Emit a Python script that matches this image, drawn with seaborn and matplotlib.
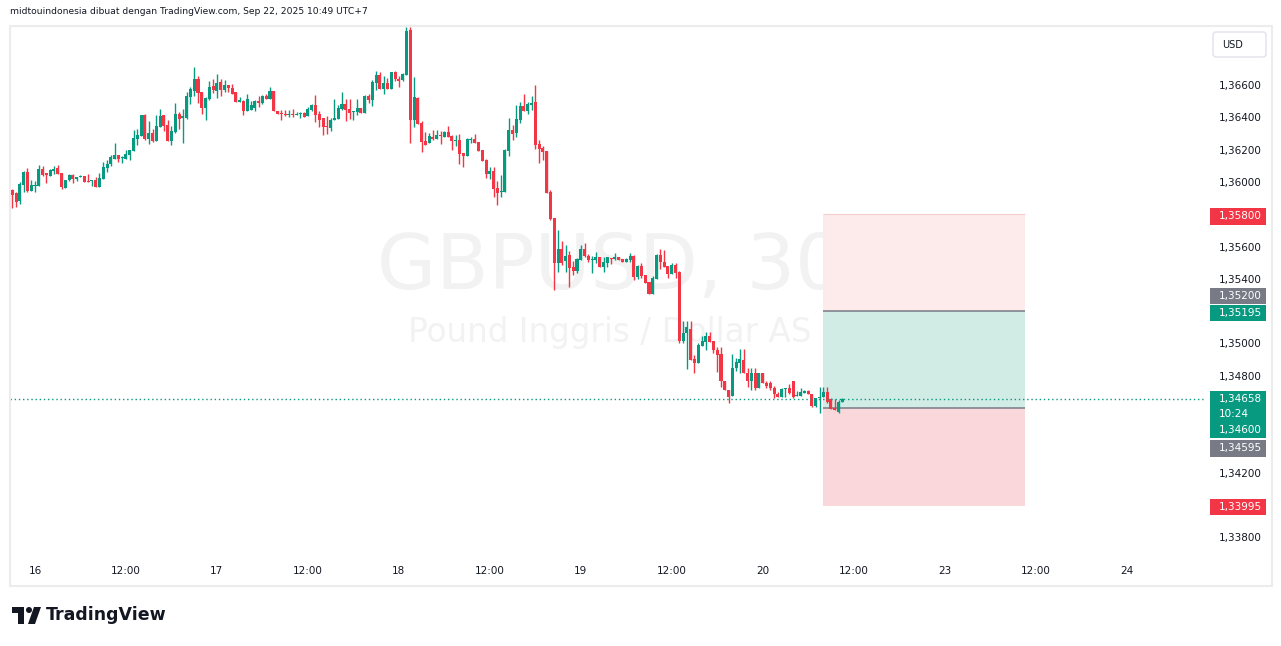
import numpy as np
import pandas as pd
import matplotlib
matplotlib.use("Agg")
import matplotlib.pyplot as plt
import matplotlib.transforms as mtransforms
from matplotlib.patches import Rectangle, Circle, Polygon, FancyBboxPatch
import seaborn as sns

# ---- data: GBPUSD 30m candles ----
open_px = [
    1.35950, 1.35931, 1.35884, 1.35983, 1.36061, 1.35946, 1.35976, 1.35976, 1.36080, 1.36051,
    1.36038, 1.36070, 1.36086, 1.36055, 1.35964, 1.36010, 1.36043, 1.36016, 1.36031, 1.36037,
    1.36006, 1.36006, 1.36012, 1.35970, 1.36020, 1.36088, 1.36113, 1.36144, 1.36167, 1.36148,
    1.36144, 1.36169, 1.36193, 1.36268, 1.36286, 1.36414, 1.36266, 1.36303, 1.36253, 1.36342,
    1.36414, 1.36352, 1.36255, 1.36311, 1.36420, 1.36398, 1.36398, 1.36528, 1.36565, 1.36637,
    1.36557, 1.36458, 1.36513, 1.36594, 1.36565, 1.36619, 1.36569, 1.36600, 1.36581, 1.36557,
    1.36497, 1.36501, 1.36441, 1.36447, 1.36458, 1.36501, 1.36489, 1.36532, 1.36513, 1.36563,
    1.36439, 1.36427, 1.36420, 1.36414, 1.36420, 1.36416, 1.36422, 1.36427, 1.36408, 1.36445,
    1.36476, 1.36420, 1.36396, 1.36346, 1.36334, 1.36383, 1.36390, 1.36451, 1.36482, 1.36451,
    1.36433, 1.36433, 1.36458, 1.36427, 1.36532, 1.36507, 1.36612, 1.36662, 1.36575, 1.36612,
    1.36575, 1.36680, 1.36637, 1.36631, 1.36662, 1.36940, 1.36383, 1.36520, 1.36365, 1.36253,
    1.36241, 1.36278, 1.36266, 1.36291, 1.36278, 1.36309, 1.36284, 1.36253, 1.36260, 1.36179,
    1.36162, 1.36261, 1.36266, 1.36247, 1.36198, 1.36138, 1.36051, 1.36068, 1.35962, 1.35938,
    1.35938, 1.36193, 1.36321, 1.36305, 1.36383, 1.36470, 1.36439, 1.36476, 1.36495, 1.36235,
    1.36210, 1.36191, 1.35938, 1.35777, 1.35498, 1.35585, 1.35511, 1.35548, 1.35473, 1.35449,
    1.35517, 1.35585, 1.35542, 1.35517, 1.35517, 1.35535, 1.35473, 1.35498, 1.35529, 1.35523,
    1.35535, 1.35523, 1.35504, 1.35517, 1.35542, 1.35411, 1.35480, 1.35424, 1.35381, 1.35306,
    1.35399, 1.35548, 1.35504, 1.35480, 1.35430, 1.35486, 1.35442, 1.35017, 1.35067, 1.35092,
    1.34906, 1.34881, 1.34983, 1.35011, 1.35046, 1.35017, 1.34960, 1.34933, 1.34768, 1.34712,
    1.34675, 1.34848, 1.34881, 1.34898, 1.34815, 1.34768, 1.34815, 1.34726, 1.34815, 1.34754,
    1.34754, 1.34726, 1.34685, 1.34671, 1.34716, 1.34726, 1.34768, 1.34677, 1.34677, 1.34695,
    1.34706, 1.34685, 1.34615, 1.34661, 1.34671, 1.34701, 1.34654, 1.34599, 1.34578, 1.34640,
]
high_px = [
    1.35956, 1.35939, 1.35999, 1.36068, 1.36086, 1.36012, 1.36006, 1.36105, 1.36100, 1.36055,
    1.36080, 1.36100, 1.36105, 1.36055, 1.36012, 1.36049, 1.36049, 1.36031, 1.36045, 1.36037,
    1.36049, 1.36010, 1.36029, 1.36055, 1.36123, 1.36136, 1.36167, 1.36241, 1.36167, 1.36162,
    1.36198, 1.36198, 1.36321, 1.36328, 1.36414, 1.36419, 1.36377, 1.36328, 1.36414, 1.36451,
    1.36414, 1.36383, 1.36346, 1.36489, 1.36431, 1.36451, 1.36557, 1.36588, 1.36711, 1.36656,
    1.36557, 1.36526, 1.36625, 1.36637, 1.36668, 1.36637, 1.36631, 1.36600, 1.36606, 1.36557,
    1.36526, 1.36507, 1.36544, 1.36501, 1.36507, 1.36532, 1.36538, 1.36544, 1.36588, 1.36563,
    1.36439, 1.36445, 1.36445, 1.36445, 1.36451, 1.36433, 1.36433, 1.36433, 1.36464, 1.36482,
    1.36538, 1.36439, 1.36396, 1.36408, 1.36396, 1.36513, 1.36476, 1.36557, 1.36513, 1.36513,
    1.36439, 1.36513, 1.36458, 1.36538, 1.36544, 1.36631, 1.36687, 1.36680, 1.36656, 1.36643,
    1.36680, 1.36687, 1.36656, 1.36674, 1.36959, 1.36959, 1.36650, 1.36526, 1.36377, 1.36309,
    1.36303, 1.36321, 1.36321, 1.36315, 1.36315, 1.36346, 1.36291, 1.36291, 1.36297, 1.36179,
    1.36272, 1.36278, 1.36297, 1.36247, 1.36198, 1.36142, 1.36092, 1.36092, 1.36006, 1.36043,
    1.36204, 1.36396, 1.36352, 1.36476, 1.36495, 1.36544, 1.36495, 1.36532, 1.36600, 1.36260,
    1.36222, 1.36191, 1.35950, 1.35777, 1.35702, 1.35634, 1.35610, 1.35573, 1.35511, 1.35529,
    1.35610, 1.35622, 1.35554, 1.35542, 1.35566, 1.35535, 1.35535, 1.35535, 1.35529, 1.35560,
    1.35535, 1.35523, 1.35529, 1.35560, 1.35548, 1.35486, 1.35498, 1.35424, 1.35381, 1.35418,
    1.35554, 1.35585, 1.35579, 1.35480, 1.35498, 1.35498, 1.35449, 1.35139, 1.35139, 1.35139,
    1.34929, 1.35003, 1.35046, 1.35073, 1.35073, 1.35017, 1.34980, 1.34980, 1.34768, 1.34712,
    1.34935, 1.34912, 1.34968, 1.34968, 1.34846, 1.34848, 1.34848, 1.34815, 1.34815, 1.34768,
    1.34768, 1.34737, 1.34700, 1.34726, 1.34726, 1.34749, 1.34768, 1.34706, 1.34726, 1.34712,
    1.34712, 1.34685, 1.34664, 1.34733, 1.34733, 1.34733, 1.34661, 1.34654, 1.34650, 1.34660,
]
low_px = [
    1.35840, 1.35847, 1.35865, 1.35939, 1.35938, 1.35944, 1.35939, 1.35976, 1.36038, 1.35995,
    1.36038, 1.36049, 1.36051, 1.35958, 1.35964, 1.36006, 1.35995, 1.36008, 1.36029, 1.36001,
    1.36001, 1.35976, 1.35970, 1.35970, 1.36020, 1.36063, 1.36100, 1.36144, 1.36125, 1.36119,
    1.36144, 1.36138, 1.36193, 1.36230, 1.36286, 1.36261, 1.36235, 1.36249, 1.36253, 1.36342,
    1.36317, 1.36255, 1.36229, 1.36301, 1.36328, 1.36241, 1.36390, 1.36482, 1.36532, 1.36490,
    1.36422, 1.36383, 1.36507, 1.36550, 1.36520, 1.36532, 1.36557, 1.36557, 1.36546, 1.36497,
    1.36497, 1.36416, 1.36441, 1.36447, 1.36441, 1.36464, 1.36482, 1.36513, 1.36513, 1.36441,
    1.36422, 1.36385, 1.36410, 1.36402, 1.36404, 1.36416, 1.36396, 1.36404, 1.36408, 1.36441,
    1.36373, 1.36340, 1.36291, 1.36297, 1.36315, 1.36383, 1.36390, 1.36445, 1.36377, 1.36390,
    1.36385, 1.36414, 1.36427, 1.36427, 1.36489, 1.36470, 1.36569, 1.36575, 1.36544, 1.36575,
    1.36575, 1.36625, 1.36588, 1.36625, 1.36662, 1.36241, 1.36340, 1.36359, 1.36185, 1.36229,
    1.36241, 1.36260, 1.36266, 1.36236, 1.36278, 1.36278, 1.36199, 1.36222, 1.36113, 1.36094,
    1.36162, 1.36241, 1.36241, 1.36191, 1.36131, 1.36026, 1.36020, 1.35909, 1.35859, 1.35909,
    1.35938, 1.36162, 1.36260, 1.36280, 1.36365, 1.36439, 1.36420, 1.36445, 1.36204, 1.36117,
    1.36136, 1.35931, 1.35764, 1.35331, 1.35442, 1.35486, 1.35442, 1.35350, 1.35424, 1.35436,
    1.35517, 1.35535, 1.35504, 1.35436, 1.35498, 1.35473, 1.35442, 1.35473, 1.35492, 1.35517,
    1.35517, 1.35504, 1.35504, 1.35504, 1.35393, 1.35399, 1.35405, 1.35374, 1.35306, 1.35306,
    1.35399, 1.35461, 1.35473, 1.35405, 1.35430, 1.35405, 1.35003, 1.35003, 1.34844, 1.34898,
    1.34819, 1.34881, 1.34983, 1.34960, 1.35011, 1.34941, 1.34825, 1.34733, 1.34712, 1.34630,
    1.34675, 1.34832, 1.34819, 1.34815, 1.34733, 1.34712, 1.34712, 1.34726, 1.34754, 1.34726,
    1.34712, 1.34664, 1.34671, 1.34671, 1.34671, 1.34685, 1.34664, 1.34677, 1.34677, 1.34691,
    1.34685, 1.34608, 1.34608, 1.34568, 1.34671, 1.34630, 1.34593, 1.34588, 1.34572, 1.34636,
]
close_px = [
    1.35921, 1.35878, 1.35987, 1.36061, 1.35944, 1.35981, 1.35981, 1.36080, 1.36043, 1.36045,
    1.36074, 1.36080, 1.36051, 1.35970, 1.36012, 1.36043, 1.36016, 1.36031, 1.36037, 1.36001,
    1.36001, 1.36010, 1.35970, 1.36024, 1.36092, 1.36113, 1.36156, 1.36167, 1.36144, 1.36152,
    1.36173, 1.36198, 1.36272, 1.36291, 1.36414, 1.36266, 1.36303, 1.36253, 1.36346, 1.36408,
    1.36346, 1.36255, 1.36315, 1.36420, 1.36390, 1.36402, 1.36532, 1.36575, 1.36637, 1.36552,
    1.36459, 1.36520, 1.36588, 1.36569, 1.36612, 1.36569, 1.36600, 1.36581, 1.36546, 1.36497,
    1.36501, 1.36441, 1.36513, 1.36476, 1.36501, 1.36489, 1.36532, 1.36513, 1.36563, 1.36441,
    1.36422, 1.36422, 1.36414, 1.36420, 1.36414, 1.36420, 1.36427, 1.36404, 1.36451, 1.36476,
    1.36414, 1.36383, 1.36340, 1.36340, 1.36383, 1.36396, 1.36458, 1.36482, 1.36445, 1.36427,
    1.36439, 1.36458, 1.36427, 1.36532, 1.36507, 1.36619, 1.36662, 1.36575, 1.36612, 1.36575,
    1.36680, 1.36637, 1.36625, 1.36668, 1.36934, 1.36383, 1.36526, 1.36359, 1.36247, 1.36229,
    1.36284, 1.36268, 1.36291, 1.36284, 1.36309, 1.36278, 1.36253, 1.36260, 1.36175, 1.36162,
    1.36266, 1.36266, 1.36241, 1.36191, 1.36131, 1.36051, 1.36068, 1.35958, 1.35933, 1.35944,
    1.36198, 1.36321, 1.36297, 1.36390, 1.36470, 1.36439, 1.36482, 1.36489, 1.36229, 1.36204,
    1.36185, 1.35931, 1.35771, 1.35498, 1.35585, 1.35498, 1.35542, 1.35467, 1.35449, 1.35523,
    1.35585, 1.35542, 1.35517, 1.35523, 1.35535, 1.35473, 1.35504, 1.35535, 1.35523, 1.35535,
    1.35517, 1.35504, 1.35523, 1.35542, 1.35411, 1.35480, 1.35418, 1.35374, 1.35306, 1.35405,
    1.35548, 1.35504, 1.35473, 1.35430, 1.35486, 1.35436, 1.35017, 1.35067, 1.35102, 1.34898,
    1.34881, 1.34991, 1.35017, 1.35046, 1.35011, 1.34960, 1.34929, 1.34768, 1.34712, 1.34671,
    1.34848, 1.34885, 1.34906, 1.34815, 1.34768, 1.34815, 1.34726, 1.34815, 1.34754, 1.34737,
    1.34726, 1.34685, 1.34671, 1.34716, 1.34726, 1.34695, 1.34671, 1.34681, 1.34701, 1.34706,
    1.34685, 1.34615, 1.34664, 1.34671, 1.34701, 1.34640, 1.34593, 1.34588, 1.34640, 1.34658,
]

# time axis (candle index of each label)
tick_pos = [6, 30, 54, 78, 102, 126, 150, 174, 198, 222, 246, 270, 294]
tick_lbl = ['16', '12:00', '17', '12:00', '18', '12:00', '19', '12:00',
            '20', '12:00', '23', '12:00', '24']
price_ticks = [1.366, 1.364, 1.362, 1.360, 1.356, 1.354, 1.350, 1.348, 1.342, 1.338]

# long/short position tools
short_entry, short_stop, short_target = 1.35200, 1.35800, 1.34595
long_entry, long_target, long_stop = 1.34600, 1.35195, 1.33995
tool_start, tool_end = 213.8, 267.2
last_price = 1.34658

UP = '#089981'
DOWN = '#f23645'
GREY = '#787b86'
TEXT = '#131722'

df = pd.DataFrame({'open': open_px, 'high': high_px, 'low': low_px, 'close': close_px})
df['idx'] = np.arange(len(df))
df['up'] = df['close'] >= df['open']
df['color'] = np.where(df['up'], UP, DOWN)
df['bottom'] = df[['open', 'close']].min(axis=1)
df['body'] = (df['open'] - df['close']).abs().clip(lower=0.00007)

sns.set_theme(style="white")
plt.rcParams['font.family'] = ['DejaVu Sans']

W, H = 1281, 646
fig = plt.figure(figsize=(W / 100, H / 100), dpi=100)
fig.patch.set_facecolor('white')


def fx(px):
    return px / W


def fy(py):
    return 1 - py / H


ax = fig.add_axes([fx(10), fy(558), fx(1205) - fx(10), fy(26) - fy(558)])
ax.patch.set_visible(False)
ymin, ymax = 1.33672, 1.36965
ax.set_xlim(-0.6, 314.7)
ax.set_ylim(ymin, ymax)
for s in ax.spines.values():
    s.set_visible(False)
price_per_px = (ymax - ymin) / 532.0

# watermark
ax.text(0.502, 0.545, 'GBPUSD, 30', transform=ax.transAxes, fontsize=55,
        color='#f2f2f3', ha='center', va='center', zorder=0)
ax.text(0.502, 0.423, 'Pound Inggris / Dollar AS', transform=ax.transAxes,
        fontsize=23.5, color='#f2f2f3', ha='center', va='center', zorder=0)

# position tool zones
tw = tool_end - tool_start
ax.add_patch(Rectangle((tool_start, short_entry), tw, short_stop - short_entry,
                       facecolor='#fdeaeb', edgecolor='none', zorder=1))
ax.add_patch(Rectangle((tool_start, short_target), tw, short_entry - short_target,
                       facecolor='#d1ebe5', edgecolor='none', zorder=1))
ax.add_patch(Rectangle((tool_start, long_stop), tw, long_entry - long_stop,
                       facecolor='#fad7da', edgecolor='none', zorder=1))
ax.hlines([short_entry, long_entry], tool_start, tool_end, colors=GREY, linewidth=1.1, zorder=2)
ax.hlines([short_stop], tool_start, tool_end, colors='#f7cfd3', linewidth=0.8, zorder=2)

# candles
ax.vlines(df['idx'], df['low'], df['high'], colors=df['color'], linewidth=1.0, zorder=3)
ax.bar(df['idx'], df['body'], bottom=df['bottom'], width=0.8, color=df['color'],
       linewidth=0, zorder=4)

# last price line
ax.axhline(last_price, color=UP, linewidth=1, linestyle=(0, (1, 2)), zorder=5)

# axes ticks
ax.set_xticks(tick_pos, tick_lbl)
ax.tick_params(axis='x', length=0, pad=6, labelsize=7.5, labelcolor=TEXT)
ax.yaxis.tick_right()
ax.set_yticks(price_ticks, [f'{v:.5f}'.replace('.', ',') for v in price_ticks])
ax.tick_params(axis='y', length=0, pad=10, labelsize=7.5, labelcolor=TEXT)
ax.grid(False)

# price tags on the scale
trans = mtransforms.blended_transform_factory(ax.transAxes, ax.transData)
box_x0 = (1210 - 10) / 1195
box_w = 56 / 1195
txt_x = (1219 - 10) / 1195
half_h = 8.3 * price_per_px


def tag(price, text, color, dy=0):
    y = price - dy * price_per_px
    ax.add_patch(Rectangle((box_x0, y - half_h), box_w, 2 * half_h, transform=trans,
                           facecolor=color, edgecolor='none', clip_on=False, zorder=6))
    ax.text(txt_x, y, text, transform=trans, color='white', fontsize=7.5,
            ha='left', va='center', clip_on=False, zorder=7)


def fmt(v):
    return f'{v:.5f}'.replace('.', ',')


tag(short_stop, fmt(short_stop), DOWN, 2)
tag(short_entry, fmt(short_entry), GREY, -15)
tag(long_target, fmt(long_target), UP, 1)
tag(last_price, fmt(last_price), UP, 0.6)
tag(last_price, '10:24', UP, 15)
tag(long_entry, fmt(long_entry), UP, 22)
tag(short_target, fmt(short_target), GREY, 39.5)
tag(long_stop, fmt(long_stop), DOWN, 1.2)

# overlay for frame, header and logo (pixel coordinates)
ov = fig.add_axes([0, 0, 1, 1], zorder=10)
ov.set_xlim(0, W)
ov.set_ylim(H, 0)
ov.axis('off')
ov.patch.set_visible(False)
ov.add_patch(Rectangle((10, 26), 1262, 560, facecolor='none', edgecolor='#ececec', linewidth=1.5))
ov.text(10, 12, 'midtouindonesia dibuat dengan TradingView.com, Sep 22, 2025 10:49 UTC+7',
        fontsize=6.6, color=TEXT, va='center', ha='left')
ov.add_patch(FancyBboxPatch((1213, 32), 53, 25, boxstyle='round,pad=0,rounding_size=3',
                            facecolor='white', edgecolor='#e0e3eb', linewidth=1))
ov.text(1222, 44.5, 'USD', fontsize=7, color=TEXT, va='center', ha='left')

# TradingView logo
ov.add_patch(Rectangle((12, 607), 12, 6, facecolor=TEXT, edgecolor='none'))
ov.add_patch(Rectangle((18, 607), 6, 17, facecolor=TEXT, edgecolor='none'))
ov.add_patch(Circle((29, 610), 3, facecolor=TEXT, edgecolor='none'))
ov.add_patch(Polygon([(34, 607), (41, 607), (35, 624), (28, 624)], closed=True,
                     facecolor=TEXT, edgecolor='none'))
ov.text(46, 615.5, 'TradingView', fontsize=12.5, fontweight='bold', color=TEXT,
        va='center', ha='left')

fig.savefig('out.png', dpi=100, facecolor='white')
